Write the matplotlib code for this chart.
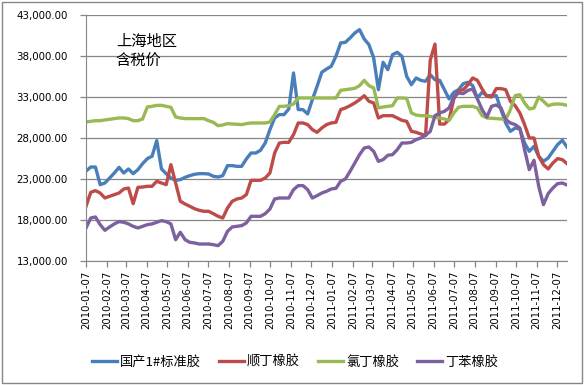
import matplotlib
matplotlib.use("Agg")
import matplotlib.pyplot as plt
import matplotlib.dates as mdates
from matplotlib.patches import Rectangle
from matplotlib.ticker import FuncFormatter
import pandas as pd

plt.rcParams['font.family'] = ['Noto Sans CJK SC', 'DejaVu Sans']

# weekly quotes, Shanghai, tax included (yuan/ton)
dates = pd.date_range('2010-01-07', periods=103, freq='7D')
tick_dates = pd.date_range('2010-01-07', '2011-12-07', freq=pd.DateOffset(months=1))
y_ticks = [13000, 18000, 23000, 28000, 33000, 38000, 43000]

natural_rubber = [
    23950, 24460, 24460, 22310, 22510, 23120, 23730, 24420, 23730, 24220,
    23650, 24140, 24870, 25480, 25770, 27680, 24220, 23650, 23120, 22840,
    22920, 23200, 23410, 23570, 23650, 23650, 23610, 23330, 23240, 23410,
    24630, 24630, 24540, 24540, 25440, 26170, 26170, 26500, 27390, 29020,
    30440, 30850, 30850, 31540, 35930, 31460, 31460, 30930, 32680, 34300,
    36010, 36410, 36740, 37960, 39590, 39670, 40200, 40800, 41210, 40070,
    39380, 37760, 33890, 37230, 36330, 38160, 38450, 37960, 35520, 34500,
    35320, 35030, 34910, 35720, 35110, 35030, 33890, 32760, 33570, 33890,
    34630, 34790, 34380, 32880, 33570, 33160, 33160, 33160, 31460, 29830,
    28810, 29220, 29100, 27390, 26370, 26980, 25760, 25150, 25560, 26370,
    27190, 27720, 26900,
]
br_rubber = [
    19670, 21370, 21580, 21290, 20680, 20890, 21090, 21290, 21780, 21900,
    19990, 21980, 22020, 22110, 22110, 22720, 22510, 22310, 24750, 22510,
    20280, 19950, 19670, 19380, 19180, 19060, 19060, 18770, 18450, 18240,
    19460, 20280, 20560, 20680, 21090, 22840, 22840, 22840, 23120, 23730,
    26170, 27390, 27470, 27470, 28410, 29830, 29830, 29630, 29020, 28690,
    29220, 29630, 29830, 29910, 31460, 31660, 31940, 32270, 32670, 33160,
    32470, 32270, 30440, 30720, 30720, 30720, 30440, 30150, 30030, 28810,
    28690, 28490, 28300, 37500, 39450, 29700, 29700, 30240, 32760, 33770,
    33890, 34500, 35320, 35030, 33970, 33080, 33000, 34020, 34020, 33890,
    32470, 31940, 31050, 29630, 28000, 28000, 25760, 24750, 24220, 24950,
    25480, 25360, 24870,
]
cr_rubber = [
    29950, 30030, 30110, 30110, 30200, 30280, 30360, 30440, 30440, 30360,
    30110, 30110, 30320, 31780, 31860, 31980, 31980, 31860, 31740, 30560,
    30440, 30360, 30360, 30360, 30360, 30360, 30110, 29910, 29500, 29590,
    29750, 29710, 29670, 29630, 29750, 29830, 29830, 29830, 29830, 29950,
    30850, 31860, 31860, 31940, 32150, 32880, 32880, 32880, 32880, 32880,
    32880, 32880, 32880, 32880, 33810, 33890, 33970, 34060, 34380, 35030,
    34380, 34100, 31660, 31780, 31860, 31940, 32880, 32880, 32840, 31050,
    30800, 30720, 30720, 30640, 30520, 30440, 30320, 30150, 31050, 31740,
    31860, 31860, 31860, 31660, 30720, 30440, 30400, 30360, 30320, 30240,
    31460, 33160, 33280, 32270, 31540, 31660, 33000, 32470, 31940, 32110,
    32150, 32110, 31980,
]
sbr_rubber = [
    17025, 18240, 18370, 17430, 16740, 17150, 17520, 17800, 17720, 17520,
    17230, 17030, 17230, 17430, 17520, 17720, 17920, 17800, 17520, 15600,
    16500, 15600, 15280, 15200, 15070, 15070, 15070, 14990, 14870, 15400,
    16620, 17150, 17230, 17310, 17640, 18450, 18450, 18450, 18770, 19340,
    20560, 20680, 20680, 20680, 21700, 22190, 22190, 21700, 20680, 20970,
    21290, 21500, 21780, 21860, 22720, 23000, 23940, 24950, 25970, 26780,
    26900, 26370, 25150, 25360, 25890, 25970, 26580, 27390, 27390, 27470,
    27800, 28000, 28330, 28810, 30720, 31050, 31250, 31660, 33000, 33490,
    33410, 33810, 33970, 32760, 31460, 30560, 31860, 32030, 31660, 30240,
    29830, 29630, 29220, 26580, 24140, 25280, 22110, 19870, 21210, 21900,
    22430, 22510, 22270,
]

series = [
    ('国产1#标准胶', natural_rubber, '#4a7ebb'),
    ('顺丁橡胶', br_rubber, '#be4b48'),
    ('氯丁橡胶', cr_rubber, '#98b954'),
    ('丁苯橡胶', sbr_rubber, '#7d60a0'),
]

fig = plt.figure(figsize=(5.84, 3.85), dpi=100)
fig.patches.append(Rectangle((0.004, 0.005), 0.992, 0.99, transform=fig.transFigure,
                             fill=False, edgecolor='#868686', linewidth=1.0))
ax = fig.add_axes([0.1473, 0.3221, 0.8236, 0.639])

for name, values, color in series:
    ax.plot(dates, values, color=color, linewidth=2.4, label=name,
            solid_joinstyle='round')

ax.set_ylim(y_ticks[0], y_ticks[-1])
ax.set_yticks(y_ticks)
ax.yaxis.set_major_formatter(FuncFormatter(lambda v, p: f'{v:,.2f}'))
ax.set_xlim(dates[0], dates[-1])
ax.set_xticks(tick_dates)
ax.xaxis.set_major_formatter(mdates.DateFormatter('%Y-%m-%d'))
plt.setp(ax.get_xticklabels(), rotation=90, fontsize=7.3, family=['DejaVu Sans'])
plt.setp(ax.get_yticklabels(), fontsize=7.4, family=['DejaVu Sans'])

ax.grid(axis='y', color='#868686', linewidth=0.9)
ax.set_axisbelow(True)
for side in ('top', 'right'):
    ax.spines[side].set_visible(False)
for side in ('left', 'bottom'):
    ax.spines[side].set_color('#868686')
ax.tick_params(axis='both', color='#868686', length=4, width=0.9)
ax.tick_params(axis='y', pad=9)
ax.tick_params(axis='x', pad=3)

ax.text(0.062, 0.925, '上海地区\n含税价', transform=ax.transAxes, fontsize=11,
        va='top', ha='left', linespacing=1.1)

fig.legend(loc='center', bbox_to_anchor=(0.505, 0.06), ncol=4, frameon=False,
           fontsize=9.5, handlelength=1.9, handletextpad=0.2, columnspacing=1.4)

fig.savefig('out.png', dpi=100)
